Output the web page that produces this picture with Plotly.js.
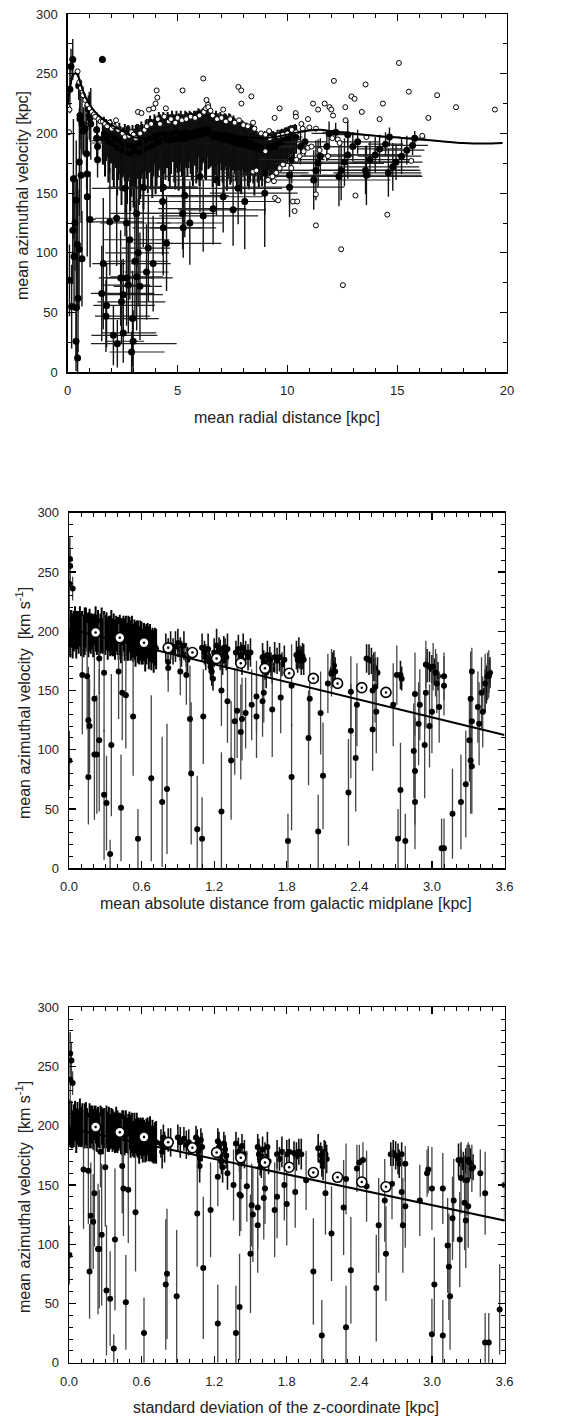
<!DOCTYPE html>
<html><head><meta charset="utf-8">
<script src="https://cdn.plot.ly/plotly-3.0.1.min.js"></script>
<style>html,body{margin:0;padding:0;background:#fff}#chart{width:573px;height:1416px}</style>
</head><body><div id="chart"></div>
<script>
// ---------------- Panel 1 data : mean radial distance vs mean azimuthal velocity ----------------
const p1CurveR = [0,0.1,0.2,0.3,0.4,0.5,0.6,0.8,1.0,1.3,1.6,1.9,2.5,3,4,5,6,7,8,9,10,10.5,11,11.5,12,13,14,15,16,17,18,19,19.8];
const p1CurveV = [224,238,247,250,250,247,241,231,224,217,212,208,202,197,195,197,199,199,197,196,199,201,202.5,203,202,200,198,196.5,195,193.5,192,191.5,192];

const p1BandR = [1.6,1.7,1.8,1.9,2.0,2.1,2.2,2.3,2.4,2.5,
2.6,2.7,2.8,2.9,3.0,3.1,3.2,3.3,3.4,3.5,
3.6,3.7,3.8,3.9,4.0,4.1,4.2,4.3,4.4,4.5,
4.6,4.7,4.8,4.9,5.0,5.1,5.2,5.3,5.4,5.5,
5.6,5.7,5.8,5.9,6.0,6.1,6.2,6.3,6.4,6.5,
6.6,6.7,6.8,6.9,7.0,7.1,7.2,7.3,7.4,7.5,
7.6,7.7,7.8,7.9,8.0,8.1,8.2,8.3,8.4,8.5,
8.6,8.7,8.8,8.9,9.0,9.1,9.2,9.3,9.4,9.5,
9.6,9.7,9.8,9.9,10.0,10.1,10.2,10.3,10.4];
const p1BandV = [196,194,198,192,195,190,193,189,192,187,
190,186,189,185,188,186,190,187,191,188,
192,189,193,190,194,191,195,192,196,193,
195,192,196,193,195,192,196,194,197,193,
196,194,197,195,198,195,199,196,200,197,
195,193,196,192,195,193,196,192,195,191,
194,190,193,189,191,188,190,187,189,186,
188,185,187,184,186,185,187,186,188,187,
189,190,191,192,193,194,195,196,197];
const p1BandEyDown = [22,30,18,25,20,35,22,28,40,24,
30,45,26,38,50,32,28,42,25,36,
30,22,40,26,45,28,24,38,30,22,
35,26,20,40,28,24,32,45,26,22,
30,38,24,28,42,26,22,35,30,25,
40,28,22,36,26,45,24,30,38,22,
28,35,24,40,26,22,34,28,24,38,
22,30,26,20,28,24,22,26,20,24,
18,22,16,20,18,16,14,16,14];
const p1BandEyUp = [14,16,12,18,15,17,13,16,14,18,
18,20,17,19,16,21,18,20,17,19,
20,23,19,22,20,24,21,23,20,22,
21,24,20,23,21,24,20,22,21,24,
22,23,21,24,22,25,23,24,22,23,
21,23,20,22,21,23,20,22,21,23,
19,21,18,20,19,21,18,20,19,20,
14,16,13,15,14,15,13,14,13,14,
12,13,12,13,12,12,11,11,10];
const p1BandEx = [0.4,0.6,0.3,0.8,0.5,0.4,0.7,0.5,0.9,0.4,
0.6,0.5,0.8,0.4,0.7,0.5,0.6,0.9,0.4,0.7,
0.5,0.8,0.4,0.6,0.7,0.5,0.9,0.4,0.6,0.8,
0.5,0.7,0.4,0.9,0.6,0.5,0.8,0.4,0.7,0.6,
0.5,0.9,0.6,0.4,0.8,0.5,0.7,0.6,0.4,0.9,
0.5,0.7,0.6,0.8,0.4,0.9,0.5,0.7,0.6,0.8,
0.5,0.7,0.9,0.6,0.8,0.5,0.7,0.6,0.9,0.8,
0.7,0.6,0.9,0.8,1.0,0.7,0.9,0.8,1.0,0.9,
0.8,0.7,0.6,0.5,0.5,0.4,0.4,0.3,0.3];

const p1Band2R = [1.65,1.75,1.85,1.95,2.05,2.15,2.25,2.35,2.45,2.55,
2.65,2.75,2.85,2.95,3.05,3.15,3.25,3.35,3.45,3.55,
3.65,3.75,3.85,3.95,4.05,4.15,4.25,4.35,4.45,4.55,
4.65,4.75,4.85,4.95,5.05,5.15,5.25,5.35,5.45,5.55,
5.65,5.75,5.85,5.95,6.05,6.15,6.25,6.35,6.45,6.55,
6.65,6.75,6.85,6.95,7.05,7.15,7.25,7.35,7.45,7.55,
7.65,7.75,7.85,7.95,8.05,8.15,8.25,8.35,8.45,8.55,
8.65,8.75,8.85,8.95,9.05,9.15,9.25,9.35,9.45,9.55,
9.65,9.75,9.85,9.95,10.05,10.15,10.25,10.35];
const p1Band2V = [200,197,193,199,191,196,188,194,186,191,
184,190,183,189,185,191,184,192,186,194,
188,196,190,198,192,199,193,200,195,199,
194,200,195,201,196,200,195,201,196,200,
197,201,198,202,199,203,200,204,201,199,
197,200,196,199,195,199,194,198,193,197,
192,196,191,194,190,193,189,192,188,190,
187,189,186,188,187,189,188,190,189,191,
192,193,194,195,196,197,198,199];
const p1Band2EyDown = [26,20,34,24,30,22,40,28,46,26,
52,30,48,34,55,28,44,30,50,26,
38,28,44,24,36,30,42,26,34,28,
40,24,36,30,44,26,38,28,32,24,
36,26,40,22,34,28,38,24,30,26,
34,28,40,24,36,30,42,26,34,28,
32,26,38,24,30,28,36,22,30,26,
28,24,30,22,26,20,24,22,20,22,
18,20,16,18,16,14,14,12];
const p1Band2EyUp = [14,15,16,13,17,14,18,15,17,14,
19,17,20,18,19,17,20,18,19,17,
20,19,21,18,20,19,21,18,20,19,
21,19,20,18,21,19,20,18,21,19,
20,18,21,19,20,18,21,19,20,18,
20,19,21,19,20,18,21,19,20,18,
18,17,19,17,18,16,18,17,18,16,
13,12,14,12,13,12,13,12,12,12,
11,11,10,10,10,10,9,9];

const p1PtR = [0.23,0.15,0.10,0.08,0.23,0.26,0.18,0.29,0.33,0.39,
0.39,0.38,0.47,0.44,0.52,0.53,0.45,0.50,0.56,0.56,
0.61,0.65,0.65,0.71,0.79,0.86,0.88,0.89,0.94,0.98,
1.02,1.02,1.05,1.32,1.36,1.36,1.32,1.58,
1.62,1.55,1.77,1.74,1.92,2.08,2.23,2.26,2.41,2.45,
2.53,2.53,2.61,2.68,2.68,2.76,2.83,2.91,2.95,2.98,
3.06,3.14,3.14,3.21,3.29,3.44,3.59,3.67,3.89,4.32,
4.35,4.50,4.35,5.23,5.33,5.26,5.56,6.02,6.17,6.62,
6.77,7.08,7.53,7.76,8.06,8.97,8.97,
10.1,10.1,10.2,10.6,10.8,11.2,11.3,11.4,11.5,11.8,
11.9,12.2,12.35,12.45,12.6,12.75,12.75,12.98,13.2,13.56,
13.6,13.76,14.0,14.2,14.47,14.6,14.65,14.8,14.95,15.2,
15.44,15.7,15.8];
const p1PtV = [262,256,237,77,119,162,55,97,125,144,
54,26,62,107,103,176,12,240,215,212,
165,95,208,202,204,183,166,147,220,215,
213,128,208,203,189,178,196,262,
91,66,56,47,126,31,129,24,79,59,
65,33,154,125,79,73,111,17,45,26,
93,80,133,100,72,155,84,104,91,143,
121,108,155,133,148,121,125,164,131,137,
161,147,136,154,143,150,167,
155,165,178,189,193,161,169,175,181,189,
200,201,164,169,176,182,199,189,193,169,
165,178,182,187,191,167,197,172,176,181,
186,190,196];
const p1PtEy = [17,15,20,30,45,50,35,45,40,50,
40,25,45,55,50,45,12,12,20,25,
40,40,25,20,20,30,40,50,12,20,
20,40,30,15,15,15,20,3,
55,40,35,30,45,25,40,20,40,35,
30,25,40,45,40,40,50,17,40,26,
50,45,45,45,45,50,40,45,40,45,
40,40,40,30,35,25,35,30,30,30,
30,30,30,30,40,45,35,
25,25,20,15,12,25,25,20,15,12,
10,8,25,25,20,20,12,12,10,20,
25,15,15,12,10,20,8,20,15,15,
12,8,6];
const p1PtExMinus = [0.05,0.05,0.05,0.05,0.05,0.05,0.05,0.05,0.05,0.05,
0.05,0.05,0.05,0.05,0.05,0.05,0.1,0.05,0.05,0.05,
0.05,0.1,0.05,0.05,0.05,0.05,0.05,0.1,0.1,0.1,
0.1,0.15,0.1,0.15,0.15,0.15,0.15,0.15,
0.5,0.5,0.6,0.5,0.8,1.0,1.0,1.2,1.0,1.1,
1.0,1.0,1.5,1.2,1.0,1.2,1.2,1.0,1.2,1.2,
1.3,1.2,1.2,1.5,1.2,1.6,1.0,1.2,1.0,1.5,
1.4,1.5,1.5,2.0,2.0,1.5,1.5,2.0,2.0,2.5,
2.0,2.5,2.5,2.5,2.5,2.5,2.0,
3.0,2.5,1.5,1.0,1.0,2.5,2.5,2.0,1.0,1.0,
0.8,0.6,3.0,3.0,2.5,1.5,0.8,1.0,0.8,2.5,
3.0,2.0,1.5,1.0,0.8,2.5,0.5,2.5,2.0,2.0,
1.5,1.0,0.5];
const p1PtExPlus = [0.05,0.05,0.08,0.05,0.05,0.05,0.05,0.05,0.05,0.05,
0.05,0.08,0.05,0.05,0.05,0.05,0.15,0.05,0.05,0.05,
0.05,0.1,0.05,0.05,0.05,0.05,0.05,0.1,0.1,0.1,
0.1,0.25,0.1,0.15,0.15,0.15,0.15,0.15,
1.0,2.4,2.2,2.0,1.5,2.0,3.0,2.7,1.5,2.0,
1.8,1.5,3.5,2.0,2.1,1.0,1.8,1.5,1.2,0.5,
1.5,1.2,2.5,1.4,1.0,2.5,1.0,1.0,0.8,2.5,
1.8,2.5,1.5,1.5,2.0,1.5,1.5,2.0,2.5,1.5,
2.0,1.8,1.5,2.0,1.5,1.5,2.0,
2.5,3.5,1.5,1.0,1.0,3.5,4.0,3.0,1.5,1.0,
0.8,0.6,3.8,3.5,3.0,2.5,0.8,1.5,1.0,2.5,
2.5,2.0,1.5,1.0,0.8,1.5,0.5,1.2,1.2,0.9,
0.8,0.7,0.5];

const p1OpenR = [0.06,0.08,0.45,0.53,0.6,0.7,0.8,0.9,1.0,1.1,
1.2,1.25,1.4,1.5,1.6,1.7,1.8,1.9,2.0,2.1,
2.2,2.3,2.5,2.6,2.8,2.9,3.0,3.1,3.2,3.3,
3.36,3.5,3.6,3.7,3.8,3.9,4.0,4.05,4.08,4.1,
4.2,4.4,4.47,4.6,4.7,4.9,5.0,5.2,5.23,5.4,
5.6,5.8,6.0,6.17,6.2,6.3,6.32,6.39,6.4,6.5,
6.6,6.8,7.0,7.08,7.2,7.4,7.6,7.77,7.8,7.9,
7.91,8.0,8.2,8.36,8.44,8.5,8.44,8.59,8.8,9.0,
9.0,9.12,9.17,9.2,9.32,9.39,9.42,9.44,9.5,9.58,
9.6,9.65,9.65,9.8,9.8,10.0,10.18,10.2,10.26,10.33,
10.38,10.39,10.4,10.41,10.45,10.56,10.64,10.7,10.74,10.94,
10.94,11.0,11.1,11.17,11.3,11.3,11.3,11.4,11.47,11.7,
11.85,11.92,12.0,12.05,12.08,12.12,12.3,12.38,12.45,12.53,
12.64,12.65,12.92,13.06,13.1,13.39,13.56,13.6,14.2,14.35,
14.55,15.08,15.53,15.64,16.14,16.42,16.82,17.68,19.45];
const p1OpenV = [201,220,252,243,238,232,228,224,221,218,
216,214,212,210,210,208,206,209,204,206,
211,203,200,197,198,201,199,196,218,200,
217,203,206,220,208,221,225,236,230,212,
208,214,221,210,212,209,213,211,236,212,
214,213,215,246,218,221,228,224,222,219,
215,212,213,220,210,212,209,239,211,236,
225,207,206,231,209,204,168,169,200,199,
185,161,202,196,164,160,213,146,167,144,
198,221,171,199,174,200,171,203,143,135,
217,214,201,178,143,181,208,204,185,212,
188,205,189,225,204,149,123,220,186,225,
181,222,220,196,215,244,195,192,103,73,
222,211,231,229,148,218,241,197,212,225,
132,259,235,177,198,213,232,222,220];

// ---------------- Panel 2 data : mean |z| vs mean azimuthal velocity ----------------
const p2BandZ = [0.00,0.01,0.02,0.03,0.04,0.05,0.06,0.07,0.08,0.09,
0.10,0.11,0.12,0.13,0.14,0.15,0.16,0.17,0.18,0.19,
0.20,0.21,0.22,0.23,0.24,0.25,0.26,0.27,0.28,0.29,
0.30,0.31,0.32,0.33,0.34,0.35,0.36,0.37,0.38,0.39,
0.40,0.41,0.42,0.43,0.44,0.45,0.46,0.47,0.48,0.49,
0.50,0.51,0.52,0.53,0.54,0.55,0.56,0.57,0.58,0.59,
0.60,0.61,0.62,0.63,0.64,0.65,0.66,0.67,0.68,0.69,
0.70,0.71,0.72];
const p2BandV = [205,198,202,196,200,203,197,201,199,204,
198,202,196,200,203,199,197,201,198,200,
196,199,202,197,200,195,198,201,196,199,
197,200,194,198,196,199,195,197,193,198,
196,194,197,192,195,198,193,196,191,194,
197,192,195,190,193,189,194,191,188,192,
190,187,191,185,189,192,186,190,184,188,
183,187,185];
const p2BandE = [18,20,16,19,17,18,20,16,18,17,
19,15,18,20,17,16,19,18,17,15,
18,16,19,17,18,16,17,19,15,18,
17,16,18,15,17,19,16,18,17,15,
16,18,17,19,16,15,18,17,16,19,
15,17,18,16,17,19,15,18,16,17,
18,15,16,19,17,15,18,16,17,15,
18,16,17];

const p2ClZ = [0.80,0.82,0.84,0.86,0.88,0.90,0.92,0.93,0.95,0.97,0.98,
1.10,1.12,1.13,1.15,1.16,1.17,1.18,1.19,1.20,1.22,1.24,1.25,1.27,1.28,1.29,1.30,1.31,
1.38,1.40,1.42,1.43,1.44,1.46,1.48,1.50,
1.60,1.61,1.62,1.63,1.64,1.66,1.67,1.68,1.70,1.72,1.74,1.76,1.78,
1.88,1.89,1.90,1.91,1.92,1.93,1.94,
2.17,2.18,2.19,2.20,
2.46,2.48,2.50,2.52,2.53,2.55,
2.74,2.75,
2.96,2.98,3.00,3.02,3.05,
3.44,3.45,3.46,3.47,3.48];
const p2ClV = [186,184,188,183,187,190,185,181,188,180,176,
186,182,178,185,175,170,166,160,182,188,184,180,175,186,182,178,185,
182,185,180,176,186,182,178,182,
178,174,170,165,180,176,172,168,178,175,178,172,176,
180,176,182,178,175,179,176,
164,168,171,166,
177,176,175,170,168,165,
163,160,
171,170,168,166,162,
150,155,158,162,165];
const p2ClE = [12,10,12,11,13,12,10,11,12,10,11,
12,10,11,13,10,11,12,10,12,14,11,13,12,10,12,11,13,
10,12,11,13,12,10,11,12,
12,10,11,13,12,11,10,12,13,11,12,10,12,
12,11,13,10,12,11,13,
12,14,13,12,
12,13,11,12,10,13,
12,10,
14,13,12,11,12,
18,16,15,14,13];

const p2LowZ = [0.003,0.008,0.01,0.003,0.03,0.11,0.15,0.16,0.17,0.16,
0.21,0.21,0.23,0.25,0.25,0.29,0.29,0.31,0.35,0.34,
0.41,0.43,0.44,0.47,0.53,0.57,0.68,0.77,0.81,0.82,
0.82,0.92,0.97,1.00,1.01,1.06,1.10,1.11,1.26,1.26,
1.31,1.34,1.37,1.39,1.42,1.43,1.46,1.51,1.55,1.55,
1.60,1.61,1.68,1.75,1.81,1.84,1.84,1.98,1.99,2.06,
2.08,2.10,2.14,2.17,2.31,2.33,2.33,2.38,2.37,2.51,
2.51,2.53,2.54,2.68,2.71,2.72,2.74,2.78,2.85,2.86,
2.86,2.86,2.89,2.90,2.94,2.95,2.95,2.98,3.00,3.01,
3.03,3.04,3.06,3.08,3.10,3.10,3.10,3.17,3.24,3.28,
3.32,3.32,3.33,3.33,3.33,3.31,3.38,3.39,3.41,3.44,
3.46,3.47,3.42];
const p2LowV = [91,261,255,240,236,163,162,125,120,77,
143,96,96,177,108,165,62,55,104,12,
166,51,148,146,128,25,76,56,67,169,
174,166,163,126,80,33,25,128,150,48,
141,91,124,133,115,126,131,138,128,145,
141,148,134,144,23,77,154,110,143,31,
131,78,156,165,64,149,116,138,93,150,
117,153,132,138,163,25,66,23,99,82,
56,147,122,138,104,172,148,120,132,170,
165,156,136,17,17,162,154,46,56,71,
143,91,86,166,124,108,136,122,148,156,
162,164,132];
const p2LowE = [25,18,15,40,10,50,45,45,40,40,
45,55,50,30,60,50,55,40,60,12,
40,45,40,45,50,25,70,55,55,20,
15,20,25,45,60,45,35,40,30,50,
35,50,45,40,40,35,30,30,35,30,
30,25,40,30,23,45,35,40,35,31,
35,45,25,20,45,30,40,35,45,30,
35,30,35,35,25,25,40,23,40,45,
40,35,35,30,45,20,30,35,35,20,
20,25,30,25,25,20,25,38,40,45,
40,45,40,20,40,35,30,35,30,25,
20,20,30];

const p2LineZ = [0, 3.6];
const p2LineV = [202, 112.5];
const p2MeanZ = [0.22,0.42,0.62,0.82,1.02,1.22,1.42,1.62,1.82,2.02,2.22,2.42,2.62];
const p2MeanV = [199,194.5,190.3,186,182,177,173,168.7,164.5,160.2,156,152.4,148.4];

// ---------------- Panel 3 data : std of z vs mean azimuthal velocity ----------------
const p3BandZ = [0.00,0.01,0.02,0.03,0.04,0.05,0.06,0.07,0.08,0.09,
0.10,0.11,0.12,0.13,0.14,0.15,0.16,0.17,0.18,0.19,
0.20,0.21,0.22,0.23,0.24,0.25,0.26,0.27,0.28,0.29,
0.30,0.31,0.32,0.33,0.34,0.35,0.36,0.37,0.38,0.39,
0.40,0.41,0.42,0.43,0.44,0.45,0.46,0.47,0.48,0.49,
0.50,0.51,0.52,0.53,0.54,0.55,0.56,0.57,0.58,0.59,
0.60,0.61,0.62,0.63,0.64,0.65,0.66,0.67,0.68,0.69,
0.70,0.71,0.72];
const p3BandV = [203,199,201,197,200,204,196,202,198,203,
199,201,197,200,202,198,196,200,199,201,
197,198,201,196,199,196,199,200,195,198,
198,199,195,197,195,198,196,196,194,197,
195,195,196,193,194,197,192,195,192,193,
196,191,194,189,192,190,193,190,187,191,
189,188,190,186,188,191,187,189,185,187,
184,186,186];
const p3BandE = [19,17,20,16,18,17,19,18,16,20,
17,18,16,19,18,17,15,19,18,16,
17,19,16,18,17,15,18,16,19,17,
16,18,17,19,15,17,18,16,17,19,
18,16,15,17,19,16,17,18,15,17,
16,18,17,15,19,16,18,17,19,16,
17,19,15,17,18,16,17,19,15,18,
16,17,18];

const p3ClZ = [0.76,0.77,0.78,0.79,0.82,0.84,0.90,0.92,0.95,0.97,
0.99,1.05,1.06,1.07,1.08,1.08,1.09,1.10,1.23,1.24,
1.25,1.26,1.27,1.28,1.29,1.30,1.31,1.38,1.40,1.41,
1.42,1.43,1.45,1.56,1.57,1.58,1.59,1.60,1.62,1.64,
1.65,1.72,1.74,1.76,1.80,1.82,1.86,1.88,1.90,1.92,
2.06,2.08,2.09,2.10,2.11,2.12,2.13,2.66,2.68,2.70,
2.72,2.73,2.75,3.22,3.24,3.26,3.28,3.30,3.32,3.34];
const p3ClV = [185,178,190,182,188,186,190,186,189,184,
186,190,185,178,172,166,188,182,187,182,
176,170,165,185,180,175,160,185,178,172,
168,183,176,182,176,170,166,180,174,182,
170,176,172,178,176,178,177,174,178,176,
181,175,170,166,178,176,172,176,177,175,
172,168,176,171,168,165,170,172,168,165];
const p3ClE = [12,14,11,13,10,12,11,13,10,12,
11,10,12,13,11,14,10,12,11,13,
12,11,13,10,12,11,14,10,12,11,
13,10,12,11,13,12,10,11,12,13,
11,12,10,13,12,11,10,12,11,13,
12,11,13,12,10,11,12,10,11,12,
13,12,10,14,12,13,11,12,13,11];

const p3LowZ = [0.003,0.01,0.02,0.01,0.03,0.12,0.16,0.17,0.18,0.20,
0.21,0.24,0.25,0.27,0.26,0.30,0.31,0.34,0.38,0.37,
0.44,0.45,0.47,0.49,0.55,0.62,0.80,0.81,0.89,1.06,
1.11,1.17,1.23,1.23,1.36,1.38,1.41,1.41,1.42,1.47,
1.50,1.51,1.52,1.56,1.56,1.61,1.62,1.70,1.72,1.80,
1.78,1.87,1.96,2.02,2.09,2.12,2.17,2.27,2.29,2.29,
2.33,2.38,2.40,2.43,2.46,2.54,2.56,2.61,2.62,2.67,
2.75,2.76,2.78,2.78,2.90,2.96,2.97,3.00,3.00,3.02,
3.09,3.09,3.13,3.14,3.15,3.17,3.18,3.23,3.24,3.24,
3.27,3.28,3.29,3.30,3.30,3.31,3.33,3.40,3.44,3.44,
3.47,3.56,3.60];
const p3LowV = [91,261,255,239,236,163,162,77,124,119,
143,96,96,108,178,165,61,54,104,12,
166,147,51,146,127,25,66,75,56,126,
80,129,33,157,150,25,47,142,141,149,
92,133,125,131,116,139,147,129,140,134,
150,144,154,77,23,143,109,131,155,30,
78,164,169,171,149,63,116,137,92,151,
144,116,132,168,137,160,163,147,24,66,
147,23,99,81,56,122,137,104,156,171,
135,120,154,132,171,169,164,160,143,17,
17,45,150];
const p3LowE = [25,18,15,40,10,50,45,40,45,40,
45,55,50,60,30,50,55,40,60,12,
40,40,40,45,50,30,55,55,56,45,
60,40,33,25,30,40,45,35,30,30,
50,35,40,35,40,35,30,40,35,35,
30,30,25,45,30,35,40,40,30,35,
45,20,15,15,30,45,40,35,40,30,
30,40,35,15,30,20,20,35,30,40,
30,30,40,45,45,35,35,40,30,15,
40,40,30,35,15,15,20,20,35,25,
25,38,30];

const p3LineZ = [0, 3.6];
const p3LineV = [198, 120];
const p3MeanZ = [0.22,0.42,0.62,0.82,1.02,1.22,1.42,1.62,1.82,2.02,2.22,2.42,2.62];
const p3MeanV = [199,194.5,190.5,186,181.5,177.5,173,169,165,160.5,156.5,152.5,148.5];

// ---------------- Figure ----------------
const W = 573, H = 1416;
const FONT = 'Liberation Sans, Arial, Helvetica, sans-serif';
const INK = '#000';

function ptsTrace(xa, ya, x, y, opts) {
  const t = {type:'scatter', mode:'markers', x:x, y:y, xaxis:xa, yaxis:ya,
    marker:{color:INK, size:opts.size || 6, line:{width:0}}, hoverinfo:'skip', cliponaxis:true};
  if (opts.ey) t.error_y = {type:'data', array:opts.ey, visible:true, color:opts.ecol || '#333', thickness:opts.eth || 1.2, width:0};
  if (opts.eyUp) t.error_y = {type:'data', symmetric:false, array:opts.eyUp, arrayminus:opts.eyDown, visible:true, color:opts.ecol || '#333', thickness:opts.eth || 1.2, width:0};
  if (opts.ex) t.error_x = {type:'data', array:opts.ex, visible:true, color:opts.excol || '#333', thickness:opts.exth || 1.1, width:0};
  if (opts.exPlus) t.error_x = {type:'data', symmetric:false, array:opts.exPlus, arrayminus:opts.exMinus, visible:true, color:opts.excol || '#333', thickness:opts.exth || 1.1, width:0};
  return t;
}

const data = [
  // panel 1
  ptsTrace('x','y', p1BandR, p1BandV, {size:6, eyUp:p1BandEyUp, eyDown:p1BandEyDown, ecol:'#000', eth:2, ex:p1BandEx, excol:'#333', exth:1.2}),
  ptsTrace('x','y', p1Band2R, p1Band2V, {size:6, eyUp:p1Band2EyUp, eyDown:p1Band2EyDown, ecol:'#111', eth:2}),
  ptsTrace('x','y', p1PtR, p1PtV, {size:7, ey:p1PtEy, ecol:'#111', eth:1.4, exPlus:p1PtExPlus, exMinus:p1PtExMinus, excol:'#222', exth:1.2}),
  {type:'scatter', mode:'markers', x:p1OpenR, y:p1OpenV, xaxis:'x', yaxis:'y', hoverinfo:'skip',
    marker:{symbol:'circle', size:5, color:'#fff', line:{color:INK, width:1}}},
  {type:'scatter', mode:'lines', x:p1CurveR, y:p1CurveV, xaxis:'x', yaxis:'y', hoverinfo:'skip',
    line:{color:INK, width:2, shape:'spline', smoothing:0.6}},
  // panel 2
  ptsTrace('x2','y2', p2BandZ, p2BandV, {size:6, ey:p2BandE, ecol:'#000', eth:2}),
  ptsTrace('x2','y2', p2ClZ, p2ClV, {size:6, ey:p2ClE, ecol:'#111', eth:1.6}),
  ptsTrace('x2','y2', p2LowZ, p2LowV, {size:6, ey:p2LowE, ecol:'#444', eth:1.3}),
  {type:'scatter', mode:'lines', x:p2LineZ, y:p2LineV, xaxis:'x2', yaxis:'y2', hoverinfo:'skip', line:{color:INK, width:2}},
  {type:'scatter', mode:'markers', x:p2MeanZ, y:p2MeanV, xaxis:'x2', yaxis:'y2', hoverinfo:'skip',
    marker:{symbol:'circle', size:10, color:'#fff', line:{color:INK, width:1.6}}},
  {type:'scatter', mode:'markers', x:p2MeanZ, y:p2MeanV, xaxis:'x2', yaxis:'y2', hoverinfo:'skip',
    marker:{symbol:'circle', size:2.5, color:INK, line:{width:0}}},
  // panel 3
  ptsTrace('x3','y3', p3BandZ, p3BandV, {size:6, ey:p3BandE, ecol:'#000', eth:2}),
  ptsTrace('x3','y3', p3ClZ, p3ClV, {size:6, ey:p3ClE, ecol:'#111', eth:1.6}),
  ptsTrace('x3','y3', p3LowZ, p3LowV, {size:6, ey:p3LowE, ecol:'#444', eth:1.3}),
  {type:'scatter', mode:'lines', x:p3LineZ, y:p3LineV, xaxis:'x3', yaxis:'y3', hoverinfo:'skip', line:{color:INK, width:2}},
  {type:'scatter', mode:'markers', x:p3MeanZ, y:p3MeanV, xaxis:'x3', yaxis:'y3', hoverinfo:'skip',
    marker:{symbol:'circle', size:10, color:'#fff', line:{color:INK, width:1.6}}},
  {type:'scatter', mode:'markers', x:p3MeanZ, y:p3MeanV, xaxis:'x3', yaxis:'y3', hoverinfo:'skip',
    marker:{symbol:'circle', size:2.5, color:INK, line:{width:0}}}
];

function px2x(p){ return p / W; }
function px2y(p){ return 1 - p / H; }

function axBase(extra) {
  return Object.assign({
    showgrid:false, zeroline:false, showline:true, linecolor:'#000', linewidth:1.3,
    mirror:'allticks', ticks:'inside', ticklen:7, tickwidth:1.2, tickcolor:'#000',
    tickfont:{family:FONT, size:13, color:'#222'}, ticklabelstandoff:6,
    automargin:false, fixedrange:true
  }, extra);
}

const layout = {
  width:W, height:H, margin:{l:0, r:0, t:0, b:0},
  paper_bgcolor:'#fff', plot_bgcolor:'#fff', showlegend:false, hovermode:false,
  font:{family:FONT, color:'#222'},
  xaxis: axBase({domain:[px2x(67.7), px2x(507)], anchor:'y', range:[0,20], tick0:0, dtick:5,
    minor:{dtick:1, ticklen:4, tickwidth:1, tickcolor:'#000', ticks:'inside'}}),
  yaxis: axBase({domain:[px2y(372.3), px2y(14)], anchor:'x', range:[0,300], tick0:0, dtick:50,
    minor:{dtick:25, ticklen:4, tickwidth:1, tickcolor:'#000', ticks:'inside'}}),
  xaxis2: axBase({domain:[px2x(69), px2x(504.5)], anchor:'y2', range:[0,3.6], tick0:0, dtick:0.6, tickformat:'.1f',
    minor:{dtick:0.1, ticklen:4, tickwidth:1, tickcolor:'#000', ticks:'inside'}}),
  yaxis2: axBase({domain:[px2y(868.3), px2y(512.7)], anchor:'x2', range:[0,300], tick0:0, dtick:50,
    minor:{dtick:10, ticklen:4, tickwidth:1, tickcolor:'#000', ticks:'inside'}}),
  xaxis3: axBase({domain:[px2x(69), px2x(504.5)], anchor:'y3', range:[0,3.6], tick0:0, dtick:0.6, tickformat:'.1f',
    minor:{dtick:0.1, ticklen:4, tickwidth:1, tickcolor:'#000', ticks:'inside'}}),
  yaxis3: axBase({domain:[px2y(1362.7), px2y(1007.3)], anchor:'x3', range:[0,300], tick0:0, dtick:50,
    minor:{dtick:10, ticklen:4, tickwidth:1, tickcolor:'#000', ticks:'inside'}}),
  annotations: [
    {text:'mean radial distance [kpc]', x:px2x(287), y:px2y(417), xref:'paper', yref:'paper', showarrow:false, xanchor:'center', yanchor:'middle', font:{family:FONT, size:16, color:'#222'}},
    {text:'mean azimuthal velocity [kpc]', x:px2x(22), y:px2y(196), xref:'paper', yref:'paper', showarrow:false, textangle:-90, xanchor:'center', yanchor:'middle', font:{family:FONT, size:16, color:'#222'}},
    {text:'mean absolute distance from galactic midplane [kpc]', x:px2x(286), y:px2y(903), xref:'paper', yref:'paper', showarrow:false, xanchor:'center', yanchor:'middle', font:{family:FONT, size:16, color:'#222'}},
    {text:'mean azimuthal velocity  [km s<sup>-1</sup>]', x:px2x(23), y:px2y(703), xref:'paper', yref:'paper', showarrow:false, textangle:-90, xanchor:'center', yanchor:'middle', font:{family:FONT, size:16, color:'#222'}},
    {text:'standard deviation of the z-coordinate [kpc]', x:px2x(286), y:px2y(1407), xref:'paper', yref:'paper', showarrow:false, xanchor:'center', yanchor:'middle', font:{family:FONT, size:16, color:'#222'}},
    {text:'mean azimuthal velocity  [km s<sup>-1</sup>]', x:px2x(23), y:px2y(1197), xref:'paper', yref:'paper', showarrow:false, textangle:-90, xanchor:'center', yanchor:'middle', font:{family:FONT, size:16, color:'#222'}}
  ]
};

Plotly.newPlot('chart', data, layout, {staticPlot:true, displayModeBar:false});
</script></body></html>
